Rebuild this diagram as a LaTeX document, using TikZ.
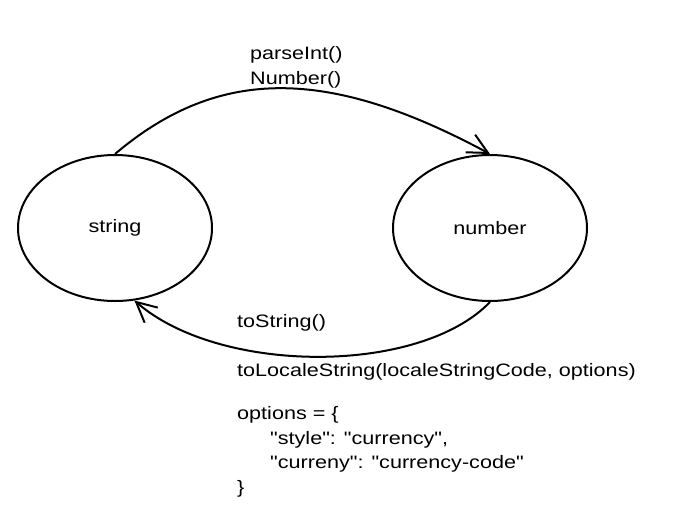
\documentclass[tikz,border=0pt]{standalone}
\usepackage{fontspec}
\setmainfont[FakeStretch=1.2,Ligatures=TeXOff]{Liberation Sans}
\usetikzlibrary{shapes.geometric,arrows.meta,positioning}

\begin{document}
\begin{tikzpicture}[
x=1pt,y=-1pt,
>={Straight Barb[length=20pt,width=20pt]},
state/.style={
	ellipse,
	draw,
	line width=2pt,
	minimum width=194pt,
	minimum height=146pt,
	inner sep=0pt,
	font=\fontsize{18}{21}\selectfont
},
transition/.style={
	->,
	line width=2pt
},
code/.style={
	align=left,
	anchor=base west,
	inner sep=0pt,
	font=\fontsize{18}{24.5}\selectfont
}
]
\useasboundingbox (0,0) rectangle (674,525);

\node[state] (strnode) at (115,228) {string};
\node[state] (numnode) at (490,228) {number};

\draw[transition] (strnode.north) .. controls (220,65) and (330,68) .. (numnode.north);
\draw[transition] (numnode.south) .. controls (420,375) and (220,375) .. (strnode.-75);

\node[code] (lblparse) at (250,84) {parseInt()\\Number()};
\node[code] (lbltostr) at (237,327) {toString()};
\node[code,anchor=north west] (lbllocale) at (237,363) {toLocaleString(localeStringCode, options)\\[19pt]
options = \{\\
\hspace*{33pt}"style": "currency",\\
\hspace*{33pt}"curreny": "currency-code"\\
\}};
\end{tikzpicture}
\end{document}
